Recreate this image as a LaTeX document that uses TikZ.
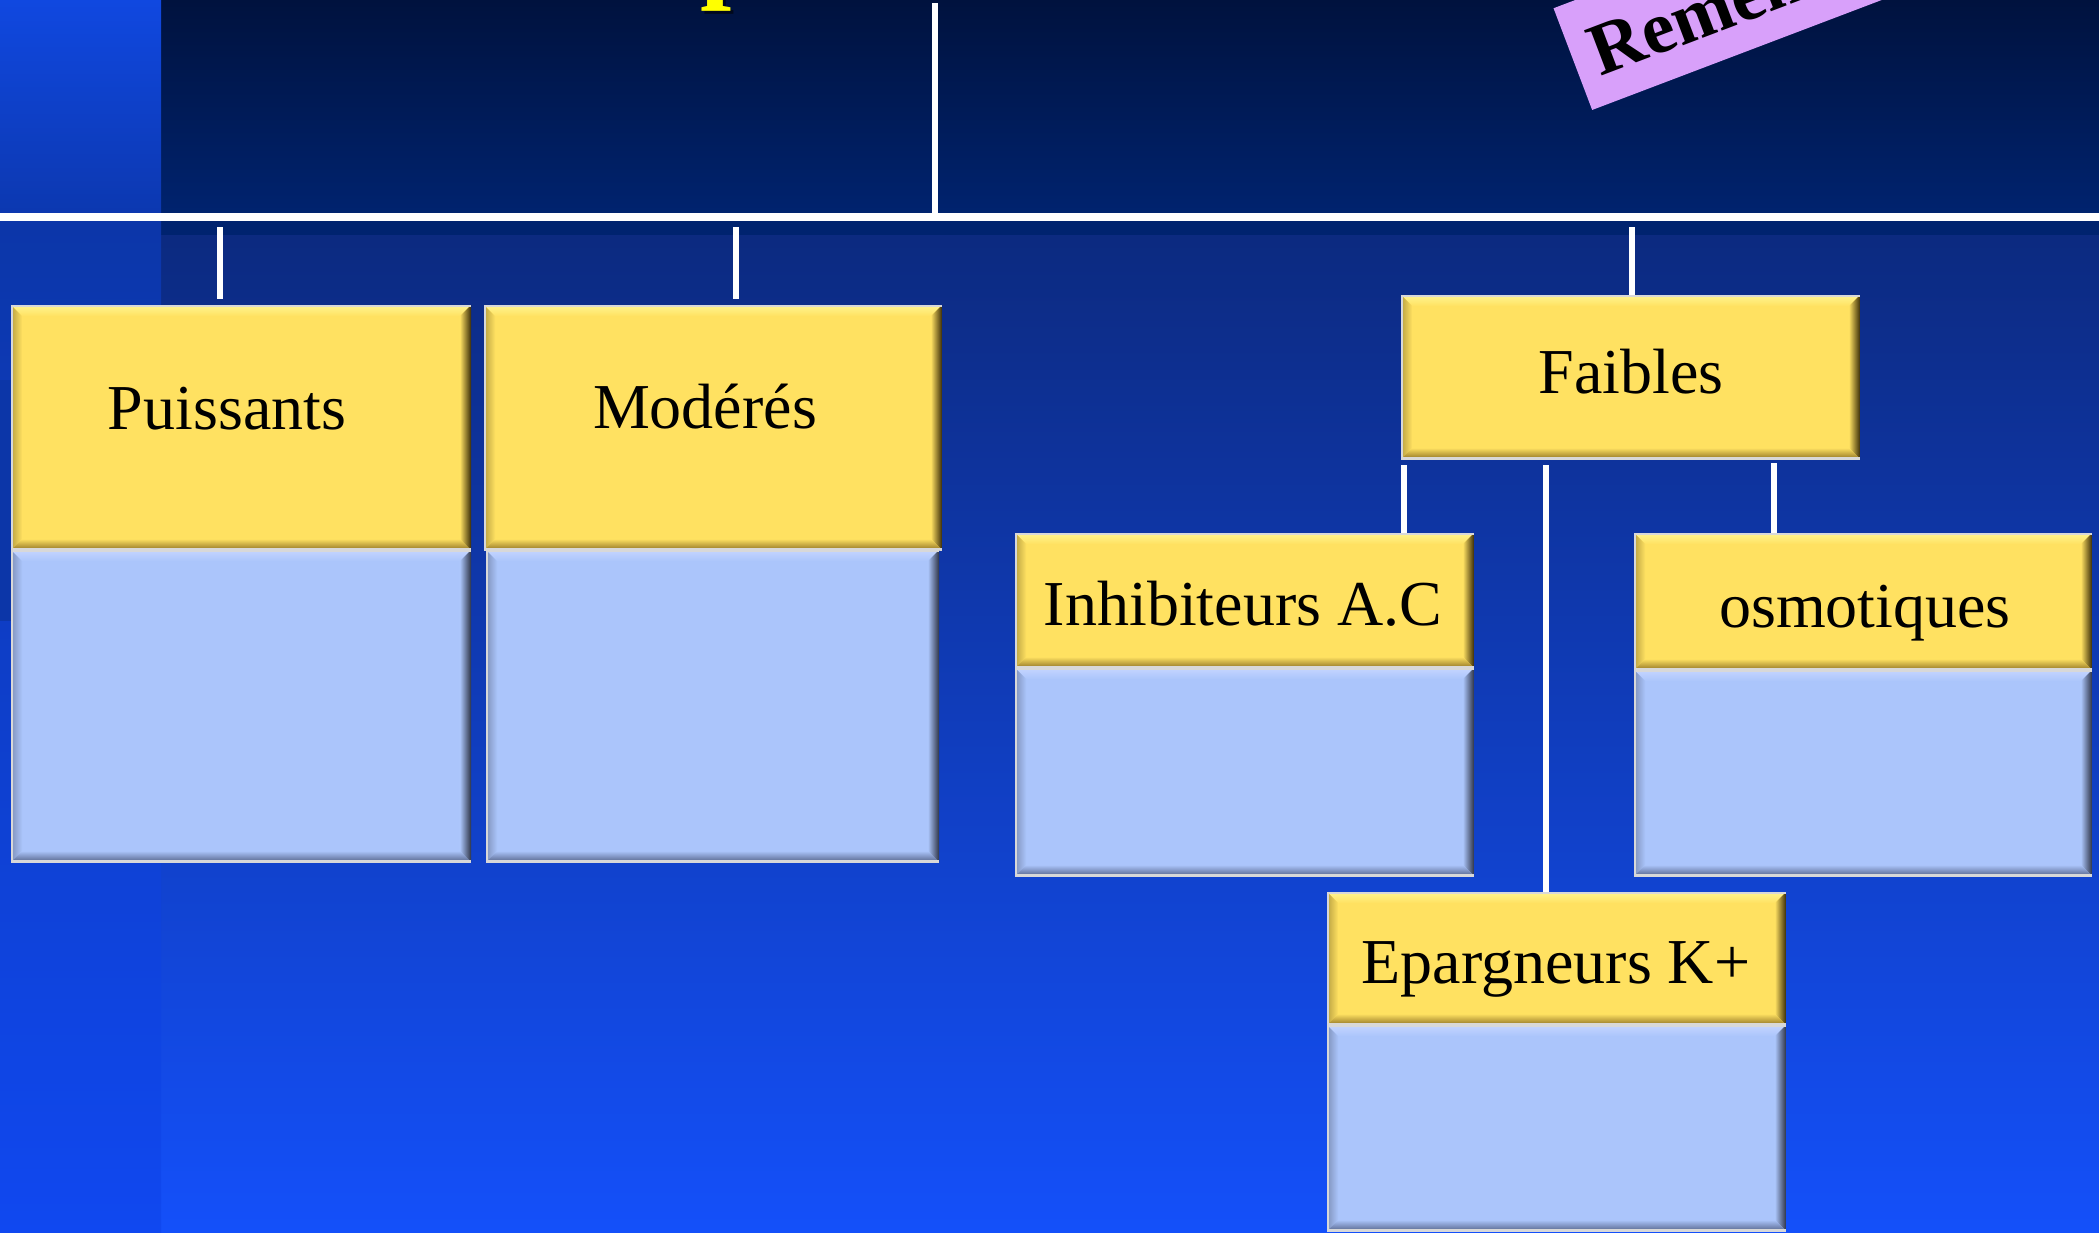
\documentclass[tikz,border=0pt]{standalone}
\usepackage{fontspec}
\setmainfont{Liberation Serif}
\usetikzlibrary{fit,calc}

\definecolor{topTop}{HTML}{00123E}
\definecolor{topBot}{HTML}{00236F}
\definecolor{stripTop}{HTML}{1048E0}
\definecolor{stripBot}{HTML}{0C38B0}
\definecolor{lowTop}{HTML}{0C2A80}
\definecolor{lowMid}{HTML}{0D3CC8}
\definecolor{lowBot}{HTML}{1450FA}
\definecolor{lsTop}{HTML}{0C36A8}
\definecolor{lsMid}{HTML}{0A36B0}
\definecolor{lsBot}{HTML}{1048F0}
\definecolor{ylw}{HTML}{FFE161}
\definecolor{ylwL}{HTML}{FFF590}
\definecolor{ylwD}{HTML}{3A2C08}
\definecolor{ylwB}{HTML}{907425}
\definecolor{blu}{HTML}{ABC5FB}
\definecolor{bluL}{HTML}{C5D5FF}
\definecolor{bluD}{HTML}{2E3447}
\definecolor{bluB}{HTML}{56648A}
\definecolor{edgegrey}{HTML}{D8D8D8}
\definecolor{lilac}{HTML}{D8A0FA}
\definecolor{titleY}{HTML}{FFFF00}
\definecolor{shadowNavy}{HTML}{001030}

\newcommand\bvw{2.8pt}

\tikzset{
  conn/.style={draw=white, line width=1.5pt},
  bar/.style={draw=white, line width=2pt},
  bevelbox/.style n args={4}{%
    fill=#1, inner sep=0pt, outer sep=0pt,
    path picture={
      \path (path picture bounding box.north west) coordinate (pNW)
            (path picture bounding box.north east) coordinate (pNE)
            (path picture bounding box.south west) coordinate (pSW)
            (path picture bounding box.south east) coordinate (pSE);
      \shade[top color=#2, bottom color=#1] (pNW) -- (pNE) -- ([shift={(-\bvw,-\bvw)}]pNE) -- ([shift={(\bvw,-\bvw)}]pNW) -- cycle;
      \shade[left color=#3!35!#1, right color=#1] (pNW) -- ([shift={(\bvw,-\bvw)}]pNW) -- ([shift={(\bvw,\bvw)}]pSW) -- (pSW) -- cycle;
      \shade[left color=#1, right color=#3] (pNE) -- (pSE) -- ([shift={(-\bvw,\bvw)}]pSE) -- ([shift={(-\bvw,-\bvw)}]pNE) -- cycle;
      \shade[top color=#1, bottom color=#4] (pSW) -- ([shift={(\bvw,\bvw)}]pSW) -- ([shift={(-\bvw,\bvw)}]pSE) -- (pSE) -- cycle;
      \draw[line width=0.8pt, draw=edgegrey] (pSE) -- (pSW) -- (pNW) -- (pNE);
    }
  },
  hdr/.style={bevelbox={ylw}{ylwL}{ylwD}{ylwB}},
  bodybox/.style={bevelbox={blu}{bluL}{bluD}{bluB}},
  lab/.style={font=\fontsize{16}{19}\selectfont, text=black, inner sep=0pt, anchor=base},
}

\begin{document}
\begin{tikzpicture}[x=0.25pt,y=-0.25pt]
\useasboundingbox (0,0) rectangle (2099,1232);
\clip (0,0) rectangle (2099,1232);

% background
\shade[top color=topTop, bottom color=topBot] (161,0) rectangle (2099,214);
\shade[top color=stripTop, bottom color=stripBot] (0,0) rectangle (161,214);
\fill[topBot] (161,214) rectangle (2099,235);
\shade[top color=lowTop, middle color=lowMid, bottom color=lowBot] (161,235) rectangle (2099,1232);
\shade[top color=lsTop, middle color=lsMid, bottom color=lsBot] (0,214) rectangle (161,1232);
\shade[top color=lsTop, middle color=shadowNavy, bottom color=lsTop] (0,380) rectangle (11,620);

% partial title glyph
\node[font=\fontsize{28}{30}\selectfont\bfseries, text=black, opacity=0.55, anchor=base west, inner sep=0pt] (ttlS) at (703,-10) {p};
\node[font=\fontsize{28}{30}\selectfont\bfseries, text=titleY, anchor=base west, inner sep=0pt] (ttl) at (700,-13) {p};

% rotated label
\node[rotate=20.8, anchor=south west, fill=lilac, inner xsep=5pt, inner ysep=0pt,
      minimum height=27.2pt, text height=13.2pt, text depth=0pt, text width=150pt, align=left,
      font=\fontsize{18.5}{20}\selectfont\bfseries] (rem) at (1591.7,111) {Remen};

% bar and connectors
\coordinate (barL) at (0,217);
\coordinate (barR) at (2099,217);
\coordinate (topc) at (935,3);
\draw[conn] (topc) -- (topc |- barL);
\draw[bar] (barL) -- (barR);

% boxes
\node[hdr, inner sep=0pt, fit={(11,305) (471,550)}] (puY) {};
\node[bodybox, inner sep=0pt, fit={(11,550) (471,862)}] (puB) {};
\node[hdr, inner sep=0pt, fit={(484,305) (942,550)}] (moY) {};
\node[bodybox, inner sep=0pt, fit={(486,550) (939,862)}] (moB) {};
\node[hdr, inner sep=0pt, fit={(1401,295) (1860,459)}] (faY) {};
\node[hdr, inner sep=0pt, fit={(1015,533) (1474,668)}] (inY) {};
\node[bodybox, inner sep=0pt, fit={(1015,668) (1474,876)}] (inB) {};
\node[hdr, inner sep=0pt, fit={(1634,533) (2092,670)}] (osY) {};
\node[bodybox, inner sep=0pt, fit={(1634,670) (2092,876)}] (osB) {};
\node[hdr, inner sep=0pt, fit={(1327,892) (1786,1025)}] (epY) {};
\node[bodybox, inner sep=0pt, fit={(1327,1025) (1786,1231)}] (epB) {};

% labels
\node[lab] (puT) at (227,429.5) {Puissants};
\node[lab] (moT) at (705,428) {Modérés};
\node[lab] (faT) at (1631,393.5) {Faibles};
\node[lab] (inT) at (1243,625) {Inhibiteurs A.C};
\node[lab] (osT) at (1865,627) {osmotiques};
\node[lab] (epT) at (1556,983) {Epargneurs K+};

% connectors from bar
\coordinate (k1) at (220,227);
\coordinate (k2) at (736,227);
\coordinate (k3) at (1632,227);
\draw[conn, shorten >=1.5pt] (k1) -- (k1 |- puY.north);
\draw[conn, shorten >=1.5pt] (k2) -- (k2 |- moY.north);
\draw[conn] (k3) -- (k3 |- faY.north);

% connectors from Faibles
\coordinate (f1) at (1404,465);
\coordinate (f2) at (1546,465);
\coordinate (f3) at (1774,463);
\draw[conn] (f1) -- (f1 |- inY.north);
\draw[conn] (f2) -- (f2 |- epY.north);
\draw[conn] (f3) -- (f3 |- osY.north);
\end{tikzpicture}
\end{document}
